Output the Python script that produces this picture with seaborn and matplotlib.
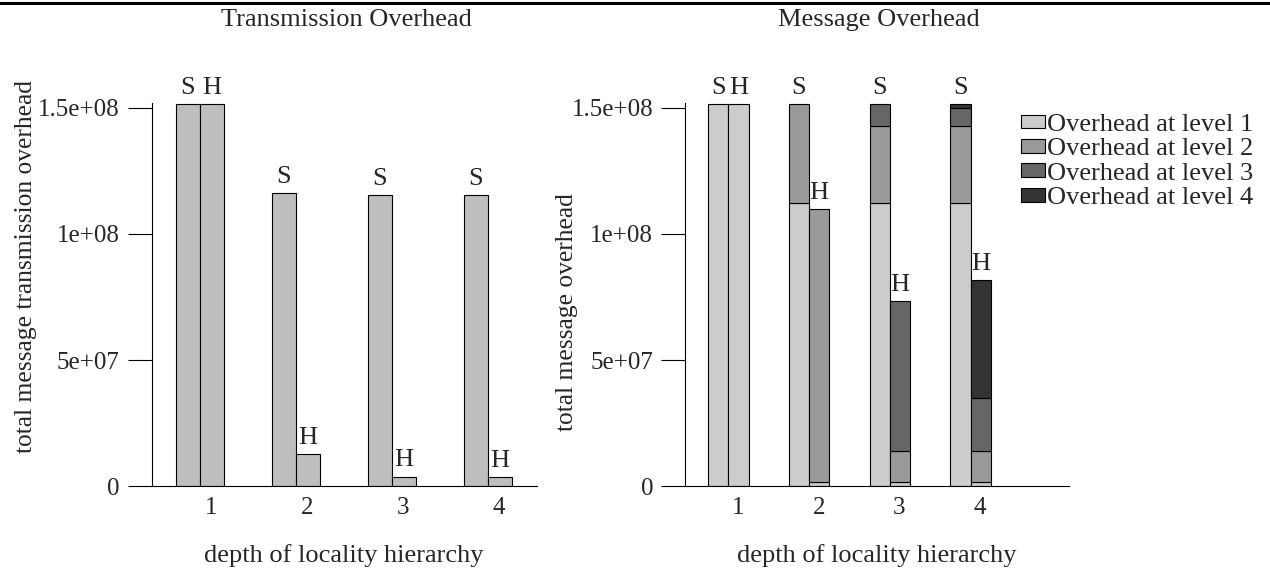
import numpy as np
import pandas as pd
import seaborn as sns
import matplotlib.pyplot as plt
from matplotlib.lines import Line2D
from matplotlib.patches import Patch

# values
depth = [1, 2, 3, 4]
tick_labels = ['1', '2', '3', '4']

# transmission overhead: S bar and H bar per depth
trans_S = [1.513e8, 1.162e8, 1.154e8, 1.154e8]
trans_H = [1.513e8, 1.28e7, 3.8e6, 3.5e6]

# message overhead split by level
msg_S_l1 = [1.513e8, 1.122e8, 1.122e8, 1.122e8]
msg_S_l2 = [0, 3.91e7, 3.04e7, 3.04e7]
msg_S_l3 = [0, 0, 8.7e6, 7.4e6]
msg_S_l4 = [0, 0, 0, 1.3e6]
msg_H_l1 = [1.513e8, 1.8e6, 1.8e6, 1.8e6]
msg_H_l2 = [0, 1.080e8, 1.22e7, 1.22e7]
msg_H_l3 = [0, 0, 5.94e7, 2.10e7]
msg_H_l4 = [0, 0, 0, 4.67e7]

level_names = ['Overhead at level 1', 'Overhead at level 2',
               'Overhead at level 3', 'Overhead at level 4']
level_colors = ['#cccccc', '#999999', '#666666', '#333333']

yticks = [0, 5e7, 1e8, 1.5e8]
ytick_labels = ['0', '5e+07', '1e+08', '1.5e+08']

sns.set_theme(style='white')
plt.rcParams['font.family'] = ['Liberation Serif', 'DejaVu Serif']
FS = 19
TFS = 18

W = 1270
H = 575
fig = plt.figure(figsize=(W / 100, H / 100), dpi=100)

bar_w = 0.25
off_S = -0.245
off_H = 0.005


def draw_bars(ax, xs, heights, bottoms, color):
    xs = np.asarray(xs, dtype=float)
    heights = np.asarray(heights, dtype=float)
    bottoms = np.asarray(bottoms, dtype=float)
    keep = heights > 0
    df = pd.DataFrame({'x': xs[keep], 'y': heights[keep]})
    sns.barplot(data=df, x='x', y='y', native_scale=True, width=bar_w,
                color=color, saturation=1, edgecolor='black', linewidth=0.8,
                bottom=bottoms[keep], errorbar=None, legend=False, ax=ax)


def style_axes(ax, xlim):
    ax.set_xlim(*xlim)
    ax.set_ylim(0, 1.52e8)
    for s in ['top', 'right']:
        ax.spines[s].set_visible(False)
    for s in ['left', 'bottom']:
        ax.spines[s].set_color('black')
        ax.spines[s].set_linewidth(0.8)
    ax.set_yticks(yticks)
    ax.set_yticklabels(ytick_labels)
    ax.set_xticks(depth)
    ax.set_xticklabels(tick_labels)
    ax.tick_params(axis='y', direction='out', length=17, width=0.8,
                   pad=6, labelsize=TFS, left=True, color='black')
    ax.tick_params(axis='x', length=0, pad=8, labelsize=TFS)
    ax.set_xlabel('')
    ax.set_ylabel('')
    ax.grid(False)


def put_label(ax, x, top, txt):
    ax.annotate(txt, (x, top), xytext=(0, 7.5), textcoords='offset points',
                ha='center', va='baseline', fontsize=FS, annotation_clip=False)


ax_h = (486.3 - 102.7) / H
ax_b = 1 - 486.3 / H

# left: transmission overhead
ax1 = fig.add_axes([151.7 / W, ax_b, (536.7 - 151.7) / W, ax_h])
xs_S = [d + off_S for d in depth]
xs_H = [d + off_H for d in depth]
draw_bars(ax1, xs_S, trans_S, np.zeros(4), '#bebebe')
draw_bars(ax1, xs_H, trans_H, np.zeros(4), '#bebebe')
style_axes(ax1, (0.382, 4.39))
for i in range(4):
    put_label(ax1, xs_S[i], trans_S[i], 'S')
    put_label(ax1, xs_H[i], trans_H[i], 'H')

# right: message overhead, stacked by level
ax2 = fig.add_axes([685 / W, ax_b, (1069 - 685) / W, ax_h])
S_levels = [msg_S_l1, msg_S_l2, msg_S_l3, msg_S_l4]
H_levels = [msg_H_l1, msg_H_l2, msg_H_l3, msg_H_l4]
bot_S = np.zeros(4)
bot_H = np.zeros(4)
for lvl in range(4):
    draw_bars(ax2, xs_S, S_levels[lvl], bot_S, level_colors[lvl])
    draw_bars(ax2, xs_H, H_levels[lvl], bot_H, level_colors[lvl])
    bot_S = bot_S + np.array(S_levels[lvl])
    bot_H = bot_H + np.array(H_levels[lvl])
style_axes(ax2, (0.343, 5.10))
for i in range(4):
    put_label(ax2, xs_S[i], bot_S[i], 'S')
    put_label(ax2, xs_H[i], bot_H[i], 'H')

# titles, axis labels
fig.text(346 / W, 1 - 20 / H, 'Transmission Overhead', ha='center', va='center', fontsize=FS)
fig.text(879 / W, 1 - 20 / H, 'Message Overhead', ha='center', va='center', fontsize=FS)
fig.text(344 / W, 1 - 556 / H, 'depth of locality hierarchy', ha='center', va='center', fontsize=FS)
fig.text(877 / W, 1 - 556 / H, 'depth of locality hierarchy', ha='center', va='center', fontsize=FS)
fig.text(26 / W, 1 - 266 / H, 'total message transmission overhead', rotation=90,
         ha='center', va='center', fontsize=18.4)
fig.text(567 / W, 1 - 312 / H, 'total message overhead', rotation=90,
         ha='center', va='center', fontsize=18.4)

# legend
handles = [Patch(facecolor=c, edgecolor='black', linewidth=0.8, label=n)
           for c, n in zip(level_colors, level_names)]
fig.legend(handles=handles, loc='upper left', bbox_to_anchor=(1021 / W, 1 - 114 / H),
           frameon=False, borderpad=0, borderaxespad=0, handlelength=0.9,
           handleheight=0.42, handletextpad=0.08, labelspacing=0.09, fontsize=FS)

# thick rule across the top
fig.add_artist(Line2D([0, 1], [1 - 3.3 / H, 1 - 3.3 / H], color='black', linewidth=2.2,
                      transform=fig.transFigure))

fig.savefig('out.png', dpi=100)
